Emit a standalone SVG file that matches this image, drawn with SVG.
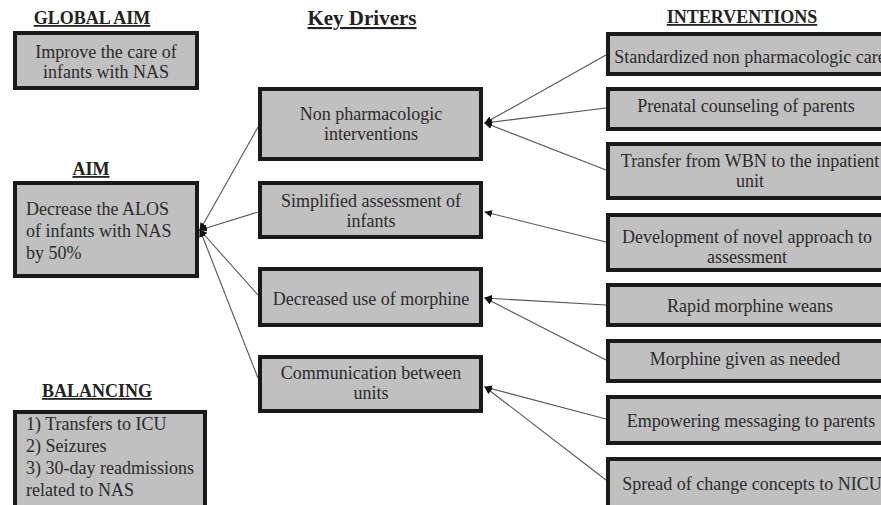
<svg xmlns="http://www.w3.org/2000/svg" width="881" height="505" viewBox="0 0 881 505">
<defs>
<style>
.box{fill:#c0c0c0;stroke:#1a1a1a;stroke-width:4}
.t{font-family:"Liberation Serif","Times New Roman",serif;font-size:18px;fill:#2b2b2b}
.c{text-anchor:middle}
.h{font-family:"Liberation Serif","Times New Roman",serif;font-weight:bold;font-size:18px;fill:#222;text-anchor:middle;text-decoration:underline}
.ln{stroke:#555;stroke-width:1.1;fill:none;marker-end:url(#ah)}
</style>
<marker id="ah" markerUnits="userSpaceOnUse" markerWidth="8" markerHeight="7" refX="7" refY="3.5" orient="auto">
<path d="M0,0 L8,3.5 L0,7 z" fill="#111"/>
</marker>
</defs>
<rect width="881" height="505" fill="#fff"/>

<g id="titles">
<text class="h" x="92" y="24">GLOBAL AIM</text>
<text class="h" x="91" y="175">AIM</text>
<text class="h" x="97" y="397">BALANCING</text>
<text class="h" x="362" y="25" style="font-size:21px">Key Drivers</text>
<text class="h" x="742" y="23">INTERVENTIONS</text>
</g>

<g id="connectors">
<line class="ln" x1="258" y1="127" x2="200" y2="230"/>
<line class="ln" x1="258" y1="212" x2="200" y2="230"/>
<line class="ln" x1="258" y1="295" x2="200" y2="230"/>
<line class="ln" x1="258" y1="378" x2="200" y2="230"/>
<line class="ln" x1="606" y1="55" x2="485" y2="123"/>
<line class="ln" x1="606" y1="108" x2="485" y2="123"/>
<line class="ln" x1="606" y1="170" x2="485" y2="123"/>
<line class="ln" x1="606" y1="242" x2="485" y2="212"/>
<line class="ln" x1="606" y1="305" x2="485" y2="298"/>
<line class="ln" x1="606" y1="360" x2="485" y2="298"/>
<line class="ln" x1="606" y1="419" x2="485" y2="387"/>
<line class="ln" x1="606" y1="480" x2="485" y2="387"/>
</g>

<g id="global-aim">
<rect class="box" x="15" y="33" width="182" height="55"/>
<text class="t c" x="106" y="58">Improve the care of</text>
<text class="t c" x="106" y="78">infants with NAS</text>
</g>

<g id="aim">
<rect class="box" x="15" y="183" width="182" height="93"/>
<text class="t" x="26" y="215">Decrease the ALOS</text>
<text class="t" x="26" y="237">of infants with NAS</text>
<text class="t" x="26" y="259">by 50%</text>
</g>

<g id="balancing">
<rect class="box" x="15" y="412" width="190" height="100"/>
<text class="t" x="26" y="430">1) Transfers to ICU</text>
<text class="t" x="26" y="452">2) Seizures</text>
<text class="t" x="26" y="474">3) 30-day readmissions</text>
<text class="t" x="26" y="496">related to NAS</text>
</g>

<g id="driver-nonpharm">
<rect class="box" x="260" y="89" width="221" height="70"/>
<text class="t c" x="371" y="120">Non pharmacologic</text>
<text class="t c" x="371" y="140">interventions</text>
</g>
<g id="driver-assessment">
<rect class="box" x="260" y="183" width="221" height="54"/>
<text class="t c" x="371" y="207">Simplified assessment of</text>
<text class="t c" x="371" y="227">infants</text>
</g>
<g id="driver-morphine">
<rect class="box" x="260" y="269" width="221" height="56"/>
<text class="t c" x="371" y="305">Decreased use of morphine</text>
</g>
<g id="driver-communication">
<rect class="box" x="260" y="357" width="221" height="54"/>
<text class="t c" x="371" y="379">Communication between</text>
<text class="t c" x="371" y="399">units</text>
</g>

<g id="int-standardized">
<rect class="box" x="608" y="34" width="285" height="40"/>
<text class="t c" x="750" y="63">Standardized non pharmacologic care</text>
</g>
<g id="int-prenatal">
<rect class="box" x="608" y="89" width="285" height="40"/>
<text class="t c" x="746" y="112">Prenatal counseling of parents</text>
</g>
<g id="int-transfer">
<rect class="box" x="608" y="144" width="285" height="54"/>
<text class="t c" x="750" y="167">Transfer from WBN to the inpatient</text>
<text class="t c" x="750" y="187">unit</text>
</g>
<g id="int-development">
<rect class="box" x="608" y="215" width="285" height="55"/>
<text class="t c" x="747" y="243">Development of novel approach to</text>
<text class="t c" x="747" y="263">assessment</text>
</g>
<g id="int-rapid">
<rect class="box" x="608" y="285" width="285" height="40"/>
<text class="t c" x="750" y="312">Rapid morphine weans</text>
</g>
<g id="int-asneeded">
<rect class="box" x="608" y="341" width="285" height="40"/>
<text class="t c" x="745" y="365">Morphine given as needed</text>
</g>
<g id="int-empowering">
<rect class="box" x="608" y="397" width="285" height="46"/>
<text class="t c" x="751" y="427">Empowering messaging to parents</text>
</g>
<g id="int-spread">
<rect class="box" x="608" y="459" width="285" height="60"/>
<text class="t c" x="752" y="490">Spread of change concepts to NICU</text>
</g>
</svg>
